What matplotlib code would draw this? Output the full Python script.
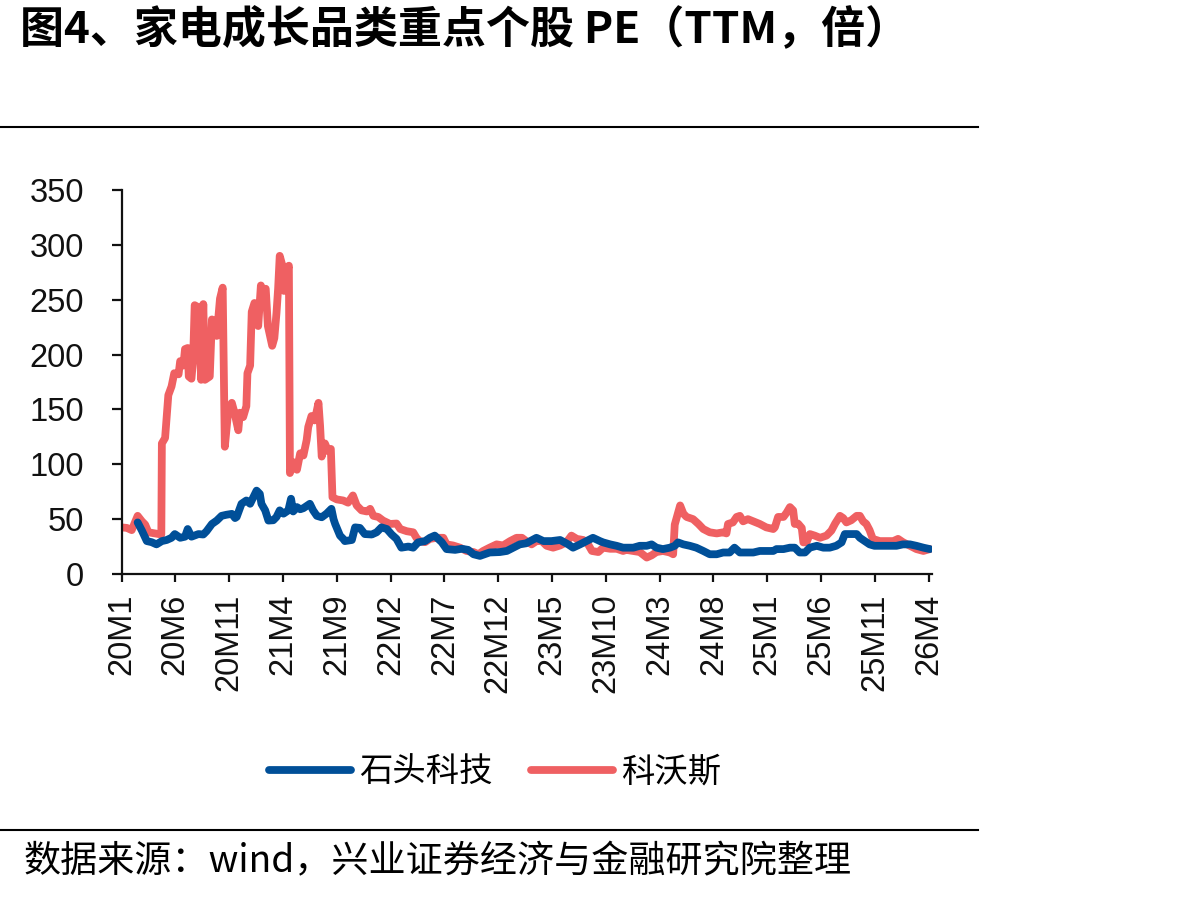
import matplotlib
matplotlib.use("Agg")
import matplotlib.pyplot as plt
from matplotlib.lines import Line2D

# ---------------- data ----------------
# time axis: months elapsed since 2020-01 (fractional)
tick_labels = ["20M1", "20M6", "20M11", "21M4", "21M9", "22M2", "22M7", "22M12",
               "23M5", "23M10", "24M3", "24M8", "25M1", "25M6", "25M11", "26M4"]
tick_months = [0, 5, 10, 15, 20, 25, 30, 35, 40, 45, 50, 55, 60, 65, 70, 75]

series_names = ["石头科技", "科沃斯"]

roborock_t = [1.5, 1.9, 2.35, 2.8, 3.25, 3.75, 4.2, 4.65, 4.95, 5.45, 5.9, 6.15, 6.5, 7.15,
              7.6, 7.9, 8.4, 8.85, 9.3, 9.75, 10.25, 10.55, 10.7, 11.15, 11.6, 11.95, 12.25,
              12.55, 12.85, 13.0, 13.35, 13.65, 14.1, 14.4, 14.7, 15.05, 15.5, 15.75, 15.95,
              16.3, 16.6, 16.9, 17.2, 17.5, 17.8, 18.15, 18.6, 19.05, 19.5, 19.7, 19.85, 20.3,
              20.6, 20.75, 21.4, 21.7, 22.15, 22.6, 23.25, 23.7, 24.15, 24.65, 25.1, 25.55,
              26.0, 26.65, 27.1, 27.55, 28.2, 28.65, 29.1, 29.75, 30.2, 31.0, 31.6, 32.2,
              32.7, 33.3, 34.2, 35.15, 35.8, 36.4, 37.0, 37.6, 38.55, 39.2, 39.95, 40.75,
              41.5, 41.95, 42.6, 43.2, 43.8, 44.45, 44.75, 45.4, 46.0, 46.6, 46.9, 47.55,
              48.15, 48.8, 49.25, 49.7, 50.3, 50.95, 51.4, 51.7, 52.2, 52.8, 53.4, 54.05,
              54.65, 55.3, 55.9, 56.5, 56.95, 57.45, 58.05, 58.7, 59.3, 59.9, 60.55, 60.85,
              61.5, 62.1, 62.55, 63.0, 63.5, 63.95, 64.6, 65.2, 65.8, 66.4, 66.9, 67.2, 67.8,
              68.3, 68.6, 69.05, 69.5, 69.95, 70.75, 71.4, 72.0, 72.6, 73.25, 73.85, 74.5, 75.1]
roborock_pe = [47, 39.5, 30, 29, 27, 30, 31, 33, 36.4, 33, 34, 41, 34, 36.4,
               36, 39, 45.6, 48.7, 53, 54, 54.8, 51, 52, 64, 67, 64, 70,
               76, 73, 64, 58, 48.7, 49, 52, 58, 55, 58, 68.6, 57,
               61, 59, 60, 62, 64, 58, 53, 51.7, 55, 59.4, 50, 45.6, 35,
               32, 30, 31, 42.5, 42, 36.4, 36, 38, 42.5, 41, 36, 32,
               24, 25, 24, 28.8, 30, 33, 35, 29, 22.7, 22, 23, 22,
               18, 16.5, 19.6, 20, 21, 24, 27, 28, 33, 30, 30, 31,
               27, 24, 27, 30, 33, 30, 28.8, 27, 25.7, 24, 24, 24,
               25.7, 25.7, 27, 24, 22.7, 24, 25.7, 28.8, 27, 25.7, 24, 21,
               18, 18, 19.6, 19.6, 24, 19.6, 19.6, 19.6, 21, 21, 21, 22.7,
               22.7, 24, 24, 19.6, 19.6, 24, 25.7, 24, 24, 25.7, 28.8, 36.4, 36.4,
               36.4, 33, 30, 27, 25.7, 25.7, 25.7, 25.7, 27, 27, 25.7, 24, 22.7]

ecovacs_t = [0.0, 0.5, 0.95, 1.2, 1.5, 1.9, 2.2, 2.5, 3.1, 3.7, 3.75, 4.05, 4.2, 4.35, 4.65,
             4.9, 5.3, 5.45, 5.75, 5.9, 6.15, 6.25, 6.5, 6.65, 6.8, 7.15, 7.4, 7.6, 7.75, 8.2,
             8.4, 8.7, 8.85, 9.15, 9.4, 9.6, 9.9, 10.25, 10.5, 10.85, 11.0, 11.3, 11.6, 11.7,
             11.95, 12.1, 12.35, 12.55, 12.7, 12.95, 13.15, 13.4, 13.6, 13.8, 14.0, 14.2,
             14.4, 14.55, 14.7, 14.95, 15.1, 15.35, 15.55, 15.65, 15.95, 16.3, 16.6, 16.9,
             17.2, 17.35, 17.65, 17.95, 18.3, 18.45, 18.6, 18.9, 19.2, 19.45, 19.6, 20.0,
             20.6, 21.05, 21.5, 21.85, 22.3, 22.8, 23.1, 23.4, 23.85, 24.3, 24.95, 25.55,
             25.9, 26.5, 27.1, 27.4, 27.7, 28.2, 28.65, 29.3, 29.9, 30.2, 30.8, 31.45,
             32.05, 32.7, 33.15, 33.6, 34.2, 34.85, 35.45, 36.1, 36.7, 37.2, 37.6, 38.1,
             38.55, 39.05, 39.5, 40.1, 40.75, 41.35, 41.8, 42.3, 42.9, 43.35, 43.7, 44.3,
             44.75, 45.4, 46.0, 46.6, 46.9, 47.55, 48.15, 48.8, 49.25, 49.7, 50.3, 50.95,
             51.25, 51.4, 51.6, 51.9, 52.2, 52.5, 53.1, 53.6, 54.05, 54.65, 55.3, 55.9,
             56.2, 56.35, 56.8, 57.15, 57.45, 57.75, 58.2, 58.7, 59.3, 59.9, 60.55, 60.7,
             61.0, 61.5, 61.8, 62.1, 62.4, 62.55, 62.85, 63.2, 63.35, 63.65, 63.95, 64.4,
             64.9, 65.5, 65.95, 66.3, 66.75, 67.05, 67.35, 67.8, 68.3, 68.6, 68.9, 69.2,
             69.5, 69.8, 70.45, 71.1, 71.7, 72.15, 72.6, 73.25, 73.85, 74.5, 75.1]
ecovacs_pe = [42.5, 42, 40, 46, 53, 48, 45, 38, 37, 36, 119, 124, 144, 163, 171,
              183, 182, 194, 190, 205, 206, 180, 178, 195, 245, 243, 177, 246, 177, 180,
              232, 230, 217, 251, 261, 116, 147, 156, 147, 131, 147, 143, 153, 183,
              190, 239, 247, 245, 226, 263, 257, 260, 226, 217, 208, 215,
              238, 260, 290, 281, 258, 275, 281, 92, 102, 95, 110, 108,
              122, 134, 144, 140, 156, 135, 107, 119, 112, 114, 70, 68,
              67, 65, 71.6, 62.5, 58, 57, 59.4, 53, 52, 48.7, 45.6, 46,
              41, 39, 38, 33, 30, 29, 32, 33, 33, 27, 26, 24,
              21, 20, 18, 21, 24, 27, 26, 30, 33, 33, 30, 27,
              30, 30, 25.7, 24, 26, 29, 35, 32, 31, 27, 21, 20,
              24, 23, 23, 21, 22, 21, 20, 15, 17, 20, 21, 19.6,
              18, 45, 52, 62.5, 55, 52, 50, 45.6, 41, 38, 37, 38,
              37, 45.6, 47, 52, 53, 48, 50, 48, 45.6, 42.5, 41, 42.5,
              52, 52, 56, 61, 58, 45.6, 46, 42, 28.8, 29, 36.4, 35,
              33, 35, 39.5, 46, 53, 51, 47, 49, 53, 53, 48, 45.6,
              40, 32, 30, 30, 30, 32, 29, 25.7, 22.7, 21, 22.7]

y_ticks = [0, 50, 100, 150, 200, 250, 300, 350]

title_text = "图4、家电成长品类重点个股 PE（TTM，倍）"
source_text = "数据来源：wind，兴业证券经济与金融研究院整理"

# ---------------- style ----------------
BLUE = "#004F98"
RED = "#EF6062"
LATIN = ["Liberation Sans", "Noto Sans CJK SC", "DejaVu Sans"]
CJK = ["Noto Sans CJK SC", "DejaVu Sans"]
plt.rcParams["font.family"] = LATIN

W, H = 1192, 897
fig = plt.figure(figsize=(W / 100, H / 100), dpi=100)
fig.patch.set_facecolor("white")

left, right, bottom, top = 121.5, 932, 574, 190
ax = fig.add_axes([left / W, 1 - bottom / H, (right - left) / W, (bottom - top) / H])

LW = 5.6
ax.plot(roborock_t, roborock_pe, color=BLUE, lw=LW, solid_joinstyle="round",
        solid_capstyle="round", label=series_names[0], zorder=3)
ax.plot(ecovacs_t, ecovacs_pe, color=RED, lw=LW, solid_joinstyle="round",
        solid_capstyle="round", label=series_names[1], zorder=2)

ax.set_xlim(0, 75.3)
ax.set_ylim(0, 350)
ax.set_yticks(y_ticks)
ax.set_yticklabels([str(v) for v in y_ticks])
ax.set_xticks(tick_months)
ax.set_xticklabels(tick_labels, rotation=90, va="top", ha="center")

for s in ["top", "right"]:
    ax.spines[s].set_visible(False)
for s in ["left", "bottom"]:
    ax.spines[s].set_linewidth(1.6)
    ax.spines[s].set_color("#111111")

ax.tick_params(axis="y", direction="out", length=7, width=1.6, pad=20,
               labelsize=23.5, colors="#111111")
ax.tick_params(axis="x", direction="out", length=6, width=1.6, pad=8,
               labelsize=23.5, colors="#111111")
for lab in ax.get_xticklabels() + ax.get_yticklabels():
    lab.set_fontfamily(LATIN)
    lab.set_color("#111111")

# legend
handles = [Line2D([], [], color=BLUE, lw=LW, solid_capstyle="round"),
           Line2D([], [], color=RED, lw=LW, solid_capstyle="round")]
leg = fig.legend(handles, series_names, loc="center",
                 bbox_to_anchor=(495 / W, 1 - 772 / H), ncol=2, frameon=False,
                 prop={"family": CJK, "size": 24}, handlelength=2.45,
                 handletextpad=0.25, columnspacing=1.15)

# title, rules, source
fig.text(20 / W, 1 - 29 / H, title_text, fontsize=31.7, fontweight="bold",
         family=CJK, va="center", ha="left", color="black")
fig.add_artist(Line2D([0, 978 / W], [1 - 127 / H, 1 - 127 / H], color="black", lw=1.5))
fig.add_artist(Line2D([0, 978 / W], [1 - 830 / H, 1 - 830 / H], color="black", lw=1.5))
fig.text(24 / W, 1 - 862 / H, source_text, fontsize=26.7, family=CJK,
         va="center", ha="left", color="black")

fig.savefig("out.png", dpi=100, facecolor="white")
